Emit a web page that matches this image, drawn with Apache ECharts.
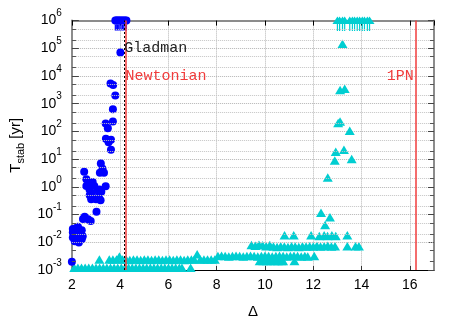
<!DOCTYPE html>
<html><head><meta charset="utf-8">
<script src="https://cdn.jsdelivr.net/npm/echarts@6/dist/echarts.min.js"></script>
<style>html,body{margin:0;padding:0;background:#fff}#c{width:463px;height:324px}</style>
</head><body><div id="c"></div>
<script>
// ---------------- data (Delta, T_stab [yr]) ----------------
const blueCircles = [
  [4.01, 7.1e4], [3.60, 5.4e3], [3.71, 4.7e3], [3.80, 2.0e3], [3.70, 630], [3.70, 230],
  [3.40, 195], [3.49, 130], [3.41, 54], [3.62, 50], [3.52, 41], [3.62, 22],
  [3.20, 7.0], [3.27, 4.5], [3.16, 3.2], [3.33, 3.2], [2.51, 3.5], [2.60, 1.9],
  [2.86, 1.5], [2.93, 1.07], [2.60, 1.07], [2.74, 1.2], [2.73, 0.81], [3.40, 1.05],
  [3.14, 0.81], [3.08, 0.75], [2.83, 0.58], [2.74, 0.50], [3.22, 0.66], [2.80, 0.36],
  [3.12, 0.43], [3.19, 0.33], [3.00, 0.36], [3.02, 0.126], [2.53, 0.083], [2.67, 0.068],
  [2.46, 0.069], [2.78, 0.059], [2.25, 0.036],
  [2.04, 0.030], [2.16, 0.032], [2.29, 0.030], [2.41, 0.027], [2.08, 0.021], [2.21, 0.019],
  [2.37, 0.021], [2.45, 0.0165], [2.04, 0.015], [2.16, 0.014], [2.29, 0.015], [2.12, 0.011],
  [2.29, 0.0098], [2.41, 0.013], [2.04, 0.023], [2.00, 0.002]
];
const blueStable = [
  [3.80, 1e6], [3.84, 1e6], [3.89, 1e6], [3.94, 1e6], [3.99, 1e6],
  [4.04, 1e6], [4.10, 1e6], [4.15, 1e6], [4.21, 1e6], [4.26, 1e6]
];
const cyanUpper = [
  [13.21, 1.45e5], [13.11, 3.1e3], [13.30, 3.5e3], [13.03, 200], [13.11, 230], [13.51, 107],
  [12.93, 18.6], [13.27, 22], [12.89, 8.9], [13.59, 10.2], [12.60, 2.2], [12.32, 0.117],
  [12.69, 0.080], [12.49, 0.042]
];
const cyanRowA = [ // ~1.8e-2
  [10.81, 0.018], [11.19, 0.018], [11.91, 0.018], [12.25, 0.017], [12.45, 0.018],
  [12.59, 0.017], [12.77, 0.018], [12.93, 0.017], [13.41, 0.018]
];
const cyanRowB = [ // ~7e-3
  [9.44, 0.0080], [9.60, 0.0075], [9.75, 0.0082], [9.90, 0.0078], [10.05, 0.0072], [10.20, 0.0080],
  [10.35, 0.0070], [10.50, 0.0068], [10.65, 0.0072], [10.80, 0.0070], [10.95, 0.0068], [11.10, 0.0072],
  [11.25, 0.0070], [11.40, 0.0068], [11.55, 0.0072], [11.70, 0.0070], [11.85, 0.0072], [12.00, 0.0070],
  [12.15, 0.0075], [12.30, 0.0070], [12.45, 0.0072], [12.60, 0.0075], [12.75, 0.0070], [12.90, 0.0072],
  [13.41, 0.0072], [13.75, 0.0072], [13.89, 0.0072]
];
const cyanRowC = [ // ~3.2e-3
  [8.05, 0.0032], [8.20, 0.0033], [8.35, 0.0032], [8.50, 0.0031], [8.65, 0.0032], [8.80, 0.0033],
  [8.95, 0.0032], [9.10, 0.0031], [9.25, 0.0032], [9.40, 0.0033], [9.55, 0.0032], [9.70, 0.0031],
  [9.85, 0.0032], [10.00, 0.0033], [10.15, 0.0032], [10.30, 0.0031], [10.45, 0.0032], [10.60, 0.0033],
  [10.75, 0.0032], [10.90, 0.0031], [11.05, 0.0032], [11.20, 0.0033], [11.35, 0.0032], [11.50, 0.0031],
  [11.65, 0.0032], [11.77, 0.0031], [12.04, 0.0032]
];
const cyanRowD = [ // ~2.1e-3
  [9.78, 0.0021], [9.93, 0.0021], [10.08, 0.0021], [10.23, 0.0021], [10.38, 0.0021],
  [10.53, 0.0021], [10.68, 0.0021], [10.75, 0.0021], [11.22, 0.0021]
];
const cyanRowE = [ // ~2.4e-3
  [3.14, 0.0024], [3.55, 0.0024], [3.70, 0.0024], [3.85, 0.0024], [3.97, 0.0031], [4.10, 0.0024],
  [4.25, 0.0024], [4.40, 0.0023], [4.55, 0.0024], [4.70, 0.0024], [4.85, 0.0023], [5.00, 0.0024],
  [5.15, 0.0024], [5.30, 0.0023], [5.45, 0.0024], [5.60, 0.0024], [5.75, 0.0023], [5.90, 0.0024],
  [6.05, 0.0024], [6.20, 0.0023], [6.35, 0.0024], [6.50, 0.0024], [6.65, 0.0023], [6.80, 0.0024],
  [6.95, 0.0024], [7.07, 0.0024], [7.19, 0.0037], [7.32, 0.0024], [7.47, 0.0024], [7.62, 0.0024],
  [7.77, 0.0024], [7.92, 0.0024]
];
const cyanRowF = [ // bottom ~1.2e-3
  [1.95, 0.0012], [2.10, 0.0012], [2.25, 0.0012], [2.40, 0.0012], [2.55, 0.0012], [2.70, 0.0012],
  [2.85, 0.0012], [3.00, 0.0012], [3.15, 0.0012], [3.30, 0.0012], [3.45, 0.0012], [3.60, 0.0012],
  [3.75, 0.0012], [3.90, 0.0012], [4.05, 0.0012], [4.20, 0.0012], [4.35, 0.0012], [4.50, 0.0012],
  [4.65, 0.0012], [4.80, 0.0012], [4.95, 0.0012], [5.10, 0.0012], [5.25, 0.0012], [5.40, 0.0012],
  [5.55, 0.0012], [5.70, 0.0012], [5.85, 0.0012], [6.00, 0.0012], [6.15, 0.0012], [6.30, 0.0012],
  [6.45, 0.0012], [6.56, 0.0012], [6.92, 0.0012]
];
const cyanStable = [
  [13.00, 1e6], [13.09, 1e6], [13.21, 1e6], [13.30, 1e6], [13.51, 1e6], [13.62, 1e6], [13.71, 1e6],
  [13.82, 1e6], [13.92, 1e6], [14.03, 1e6], [14.12, 1e6], [14.24, 1e6], [14.33, 1e6]
];
const gladmanDelta = 4.15;
const newtonianDelta = 4.24;
const pnDelta = 16.25;
const minorGridValues = [0.002, 0.005, 0.02, 0.05, 0.2, 0.5, 2, 5, 20, 50, 200, 500, 2000, 5000, 2e4, 5e4, 2e5, 5e5];
const xRange = [2, 17];
const yRange = [1e-3, 1e6];

// ---------------- chart ----------------
const FONT = '"Liberation Sans", Arial, sans-serif';
const MONO = '"Liberation Mono", "DejaVu Sans Mono", monospace';
const BLUE = '#0000ff';
const CYAN = '#00ced1';
const RED = '#f03c3c';

const cyanAll = [].concat(cyanRowF, cyanRowE, cyanRowD, cyanRowC, cyanRowB, cyanRowA, cyanUpper);

const minorLines = minorGridValues.map(v => ({ yAxis: v }));
const minorTicks = [];
minorGridValues.forEach(v => {
  minorTicks.push([{ coord: [xRange[0], v] }, { coord: [xRange[0] + 0.17, v] }]);
  minorTicks.push([{ coord: [xRange[1] - 0.17, v] }, { coord: [xRange[1], v] }]);
});

const chart = echarts.init(document.getElementById('c'));
chart.setOption({
  animation: false,
  backgroundColor: '#fff',
  grid: { left: 69, right: 29, top: 20.6, bottom: 52 },
  xAxis: [{
    type: 'value', min: xRange[0], max: xRange[1], interval: 2, position: 'bottom',
    name: 'Δ', nameLocation: 'middle', nameGap: 34,
    nameTextStyle: { fontFamily: FONT, fontSize: 15, color: '#000' },
    axisLine: { show: true, onZero: false, lineStyle: { color: '#000', width: 1 } },
    axisTick: { show: true, inside: true, length: 4, lineStyle: { color: '#333' } },
    axisLabel: { showMaxLabel: false, margin: 8, fontFamily: FONT, fontSize: 14, color: '#000' },
    splitLine: { show: true, lineStyle: { color: '#b4b4b4', type: 'dotted', width: 1 } }
  }, {
    type: 'value', min: xRange[0], max: xRange[1], interval: 2, position: 'top',
    axisLine: { show: true, onZero: false, lineStyle: { color: '#8c8c8c', width: 2 } },
    axisTick: { show: true, inside: true, length: 5, lineStyle: { color: '#000' } },
    axisLabel: { show: false }, splitLine: { show: false }
  }],
  yAxis: [{
    type: 'log', logBase: 10, min: yRange[0], max: yRange[1], position: 'left',
    name: '{n|T}{s|stab}{n| [yr]}', nameLocation: 'middle', nameGap: 38, nameRotate: 90,
    nameTextStyle: {
      fontFamily: FONT, fontSize: 15, color: '#000',
      rich: {
        n: { fontFamily: FONT, fontSize: 15, lineHeight: 22, color: '#000' },
        s: { fontFamily: FONT, fontSize: 11, lineHeight: 14, verticalAlign: 'bottom', color: '#000' }
      }
    },
    axisLine: { show: true, onZero: false, lineStyle: { color: '#8c8c8c', width: 2 } },
    axisTick: { show: true, inside: true, length: 7, lineStyle: { color: '#444' } },
    axisLabel: {
      margin: 10, fontFamily: FONT, fontSize: 14, color: '#000',
      formatter: v => '{b|10}{p|' + Math.round(Math.log10(v)) + '}',
      rich: {
        b: { fontFamily: FONT, fontSize: 14, lineHeight: 24, color: '#000' },
        p: { fontFamily: FONT, fontSize: 10, lineHeight: 10, verticalAlign: 'top', color: '#000' }
      }
    },
    splitLine: { show: true, lineStyle: { color: '#b4b4b4', type: 'dotted', width: 1 } }
  }, {
    type: 'log', logBase: 10, min: yRange[0], max: yRange[1], position: 'right',
    axisLine: { show: true, onZero: false, lineStyle: { color: '#8c8c8c', width: 2 } },
    axisTick: { show: true, inside: true, length: 6, lineStyle: { color: '#444' } },
    axisLabel: { show: false }, splitLine: { show: false }
  }],
  series: [{
    type: 'scatter', data: [], z: 1, silent: true,
    markLine: {
      silent: true, symbol: 'none', animation: false, label: { show: false },
      lineStyle: { color: '#c4c4c4', type: 'dotted', width: 1 },
      emphasis: { disabled: true },
      data: minorLines
    }
  }, {
    type: 'scatter', data: [], z: 1, silent: true,
    markLine: {
      silent: true, symbol: 'none', animation: false, label: { show: false },
      lineStyle: { color: '#555', type: 'solid', width: 1 },
      emphasis: { disabled: true },
      data: minorTicks
    }
  }, {
    name: 'cyan', type: 'scatter', z: 2, data: cyanAll,
    symbol: 'triangle', symbolSize: [10, 8.5],
    itemStyle: { color: CYAN, opacity: 1 }
  }, {
    name: 'cyanStable', type: 'scatter', z: 2, data: cyanStable,
    symbol: 'path://M0,-4L5,3.5L-5,3.5ZM-0.6,3.5L0.6,3.5L0.6,10.5L-0.6,10.5Z',
    symbolSize: [10, 14.5], symbolOffset: [0, 3.25],
    itemStyle: { color: CYAN, opacity: 1 }
  }, {
    name: 'blue', type: 'scatter', z: 3, data: blueCircles,
    symbol: 'circle', symbolSize: 8,
    itemStyle: { color: BLUE, opacity: 1 }
  }, {
    name: 'blueStable', type: 'scatter', z: 3, data: blueStable,
    symbol: 'path://M-4,0A4,4,0,1,0,4,0A4,4,0,1,0,-4,0ZM-0.6,0L0.6,0L0.6,10L-0.6,10Z',
    symbolSize: [8, 14], symbolOffset: [0, 3],
    itemStyle: { color: BLUE, opacity: 1 }
  }, {
    type: 'scatter', data: [], z: 4, silent: true,
    markLine: {
      silent: true, symbol: 'none', animation: false, label: { show: false },
      emphasis: { disabled: true },
      data: [
        { xAxis: gladmanDelta, lineStyle: { color: '#000', type: [2, 2], width: 1 } },
        { xAxis: newtonianDelta, lineStyle: { color: RED, type: 'solid', width: 1.5 } },
        { xAxis: pnDelta, lineStyle: { color: RED, type: 'solid', width: 1.5 } }
      ]
    },
    markPoint: {
      silent: true, symbol: 'circle', symbolSize: 1, animation: false,
      itemStyle: { color: 'rgba(0,0,0,0)' },
      data: [
        { coord: [gladmanDelta + 0.0, 1e5], label: { show: true, formatter: 'Gladman', position: 'right', distance: 0, fontFamily: MONO, fontSize: 15, color: '#222' } },
        { coord: [newtonianDelta - 0.04, 1e4], label: { show: true, formatter: 'Newtonian', position: 'right', distance: 0, fontFamily: MONO, fontSize: 15, color: RED } },
        { coord: [pnDelta - 0.07, 1e4], label: { show: true, formatter: '1PN', position: 'left', distance: 0, fontFamily: MONO, fontSize: 15, color: RED } }
      ]
    }
  }]
});
</script>
</body></html>
